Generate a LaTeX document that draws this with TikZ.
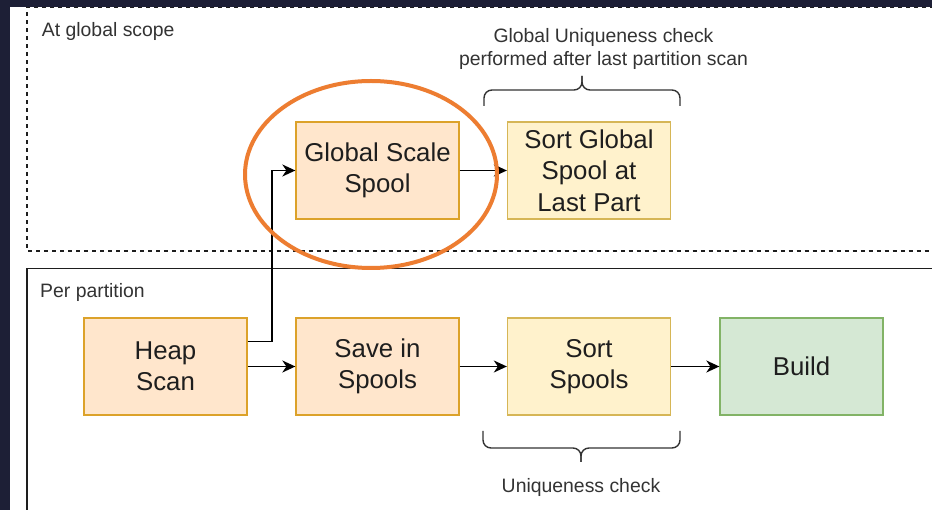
\documentclass[tikz,border=0pt]{standalone}
\usepackage{fontspec}
\setmainfont{Liberation Sans}
\usetikzlibrary{arrows.meta,shapes.geometric}

\definecolor{pagebg}{RGB}{29,31,54}
\definecolor{orfill}{HTML}{FFE6CC}
\definecolor{orline}{HTML}{DCA22A}
\definecolor{yefill}{HTML}{FFF2CC}
\definecolor{yeline}{HTML}{D6B656}
\definecolor{grfill}{HTML}{D5E8D4}
\definecolor{grline}{HTML}{82B366}
\definecolor{ringcol}{HTML}{ED7D31}
\definecolor{ink}{HTML}{1E1E1E}
\definecolor{labelink}{HTML}{333333}

\begin{document}
\begin{tikzpicture}[x=1pt,y=-1pt,
  stepbox/.style={rectangle, minimum width=163pt, minimum height=97pt,
    line width=1.3pt, align=center, text=ink, inner sep=0pt,
    font=\fontsize{25.8}{31.5}\selectfont},
  orbox/.style={stepbox, fill=orfill, draw=orline},
  yebox/.style={stepbox, fill=yefill, draw=yeline},
  grbox/.style={stepbox, fill=grfill, draw=grline},
  conn/.style={line width=1.6pt, draw=black,
    -{Stealth[length=13pt,width=12pt,inset=4pt]}},
  lbl/.style={text=labelink, inner sep=0pt, align=center,
    font=\fontsize{19.4}{23}\selectfont},
  frame/.style={line width=1.3pt, draw=ink},
  bracket/.style={line width=1.4pt, draw=labelink, rounded corners=8pt},
  ring/.style={ellipse, draw=ringcol, line width=4pt, inner sep=0pt}
]
\useasboundingbox (0,0) rectangle (932,510);

% page and surrounding dark margin
\fill[pagebg] (0,0) rectangle (932,510);
\fill[white] (10,7) rectangle (932,510);

% scope frames
\begin{scope}
  \clip (0,0) rectangle (932,510);
  \draw[frame, dash pattern=on 4pt off 4pt] (950,7.5) -- (27,7.5) -- (27,251) -- (950,251);
  \draw[frame] (950,268.3) -- (27,268.3) -- (27,530);
\end{scope}

\node[lbl, anchor=base west] (globlbl) at (41.7,37) {At global scope};
\node[lbl, anchor=base west] (partlbl) at (40,298) {Per partition};

% process steps
\node[orbox] (glob)  at (377.5,170.5) {Global Scale\\Spool};
\node[yebox] (sortg) at (589,170.5)   {Sort Global\\Spool at\\Last Part};
\node[orbox] (heap)  at (165.5,366.5) {Heap\\Scan};
\node[orbox] (save)  at (377.5,366.5) {Save in\\Spools};
\node[yebox] (sorts) at (589,366.5)   {Sort\\Spools};
\node[grbox] (build) at (801.5,366.5) {Build};

% connectors
\coordinate (tap) at ([yshift=25pt]heap.east);
\draw[conn] (tap) -- ++(24.5,0) |- (glob.west);
\draw[conn] (heap) -- (save);
\draw[conn] (save) -- (sorts);
\draw[conn] (sorts) -- (build);
\draw[conn] (glob) -- (sortg);

% brackets with their notes
\draw[bracket] (484,106) -- (484,90) -- (582,90) -- (582,76);
\draw[bracket] (680,106) -- (680,90) -- (582,90) -- (582,76);
\node[lbl] (globnote) at (603.5,49) {Global Uniqueness check\\performed after last partition scan};

\draw[bracket] (483,431) -- (483,448) -- (581,448) -- (581,462);
\draw[bracket] (680,431) -- (680,448) -- (581,448) -- (581,462);
\node[lbl, anchor=base] (uninote) at (581,493) {Uniqueness check};

% highlight ring around the global spool
\node[ring, minimum width=252pt, minimum height=187pt] (hl) at (371,174.5) {};
\end{tikzpicture}
\end{document}
